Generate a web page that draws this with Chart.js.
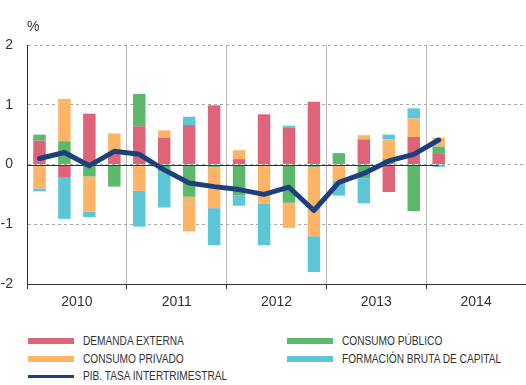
<!DOCTYPE html>
<html><head><meta charset="utf-8">
<script src="https://cdn.jsdelivr.net/npm/chart.js@4/dist/chart.umd.min.js"></script>
<style>
html,body{margin:0;padding:0;background:#fff;}
#wrap{position:relative;width:526px;height:385px;overflow:hidden;background:#fff;}
#c{position:absolute;left:0;top:0;}
.unit{position:absolute;left:27px;top:18px;font:14px "Liberation Sans",Arial,sans-serif;color:#333;}
.leg{position:absolute;font-family:"Liberation Sans",Arial,sans-serif;font-size:13px;color:#333;white-space:nowrap;line-height:14px;transform:scaleX(0.78);transform-origin:0 50%;}
.sw{position:absolute;}
</style></head>
<body>
<div id="wrap">
<canvas id="c" width="526" height="314"></canvas>
<div class="unit">%</div>
<div id="legend"></div>
</div>
<script>
const quarters = ['2010 I','2010 II','2010 III','2010 IV','2011 I','2011 II','2011 III','2011 IV','2012 I','2012 II','2012 III','2012 IV','2013 I','2013 II','2013 III','2013 IV','2014 I','2014 II','2014 III','2014 IV'];
const years = ['2010','2011','2012','2013','2014'];
const yTicks = [-2,-1,0,1,2];
const demandaExterna = [0.40,-0.22,0.85,0.19,0.64,0.45,0.66,0.99,0.09,0.84,0.62,1.05,0.00,0.42,-0.46,0.46,0.19];
const consumoPublico = [0.10,0.39,-0.20,-0.37,0.54,-0.12,-0.54,-0.04,-0.52,0.00,-0.64,-0.04,0.19,-0.23,0.09,-0.78,0.11];
const consumoPrivado = [-0.40,0.71,-0.59,0.33,-0.44,0.12,-0.58,-0.69,0.15,-0.66,-0.42,-1.16,-0.27,0.07,0.33,0.31,0.15];
const formacionBruta = [-0.05,-0.69,-0.09,0.00,-0.60,-0.60,0.14,-0.62,-0.17,-0.69,0.03,-0.60,-0.25,-0.42,0.08,0.17,-0.04];
const pibTasa = [0.10,0.20,-0.02,0.22,0.17,-0.09,-0.31,-0.37,-0.42,-0.50,-0.38,-0.77,-0.30,-0.15,0.06,0.17,0.41];

const C = {red:'#dd6479', green:'#5cb86a', orange:'#fdb466', cyan:'#5dc6d6', navy:'#1c3f7e'};
const FONT = '"Liberation Sans", Arial, sans-serif';

const zeroLine = {
  id:'zeroLine',
  beforeDatasetDraw(chart, args){
    if (args.index !== 4) return;
    const {ctx, chartArea, scales} = chart;
    const py = Math.round(scales.y.getPixelForValue(0)) + 0.5;
    const xEnd = scales.x.getPixelForValue(pibTasa.length - 1);
    ctx.save();
    ctx.strokeStyle = '#333';
    ctx.lineWidth = 1;
    ctx.beginPath();
    ctx.moveTo(chartArea.left, py);
    ctx.lineTo(xEnd, py);
    ctx.stroke();
    ctx.restore();
  }
};

function bar(label, data, color){
  return {type:'bar', label, data, backgroundColor:color, borderWidth:0, xAxisID:'x', yAxisID:'y', stack:'s', order:1, barPercentage:0.5, categoryPercentage:1};
}

new Chart(document.getElementById('c'), {
  type:'bar',
  data:{
    labels: quarters,
    datasets:[
      bar('DEMANDA EXTERNA', demandaExterna, C.red),
      bar('CONSUMO PÚBLICO', consumoPublico, C.green),
      bar('CONSUMO PRIVADO', consumoPrivado, C.orange),
      bar('FORMACIÓN BRUTA DE CAPITAL', formacionBruta, C.cyan),
      {type:'line', label:'PIB. TASA INTERTRIMESTRAL', data:pibTasa, borderColor:C.navy, backgroundColor:C.navy, borderWidth:5, pointRadius:0, tension:0, fill:false, xAxisID:'x', yAxisID:'y', stack:'pib', order:0, borderJoinStyle:'round', borderCapStyle:'round'}
    ]
  },
  options:{
    responsive:false, animation:false, devicePixelRatio:1,
    layout:{padding:{top:45,left:0,right:0,bottom:0}},
    plugins:{legend:{display:false}, tooltip:{enabled:false}},
    scales:{
      x:{type:'category', stacked:true, display:false, offset:true},
      x2:{type:'category', labels:years, position:'bottom', offset:true,
        grid:{offset:true, color:'#b8b8b8', lineWidth:1, drawTicks:true, tickLength:5, tickColor:'#333'},
        border:{display:true, color:'#333', width:1},
        ticks:{font:{size:14, family:FONT}, color:'#333', padding:5, autoSkip:false, maxRotation:0},
        afterFit(s){ s.height = 30; }
      },
      y:{stacked:true, min:-2, max:2,
        afterBuildTicks(s){ s.ticks = yTicks.map(v=>({value:v})); },
        ticks:{font:{size:14, family:FONT}, color:'#333', padding:14},
        grid:{drawTicks:false, lineWidth:1, color:(c)=> (c.tick && c.tick.value === -2) ? 'rgba(0,0,0,0)' : '#aaaaaa'},
        border:{display:true, color:'#333', width:1, dash:[3,3]},
        afterFit(s){ s.width = 27; }
      }
    }
  },
  plugins:[zeroLine]
});

const legendItems = [
  {label:'DEMANDA EXTERNA', color:C.red, kind:'box', col:0, row:0},
  {label:'CONSUMO PRIVADO', color:C.orange, kind:'box', col:0, row:1},
  {label:'PIB. TASA INTERTRIMESTRAL', color:C.navy, kind:'line', col:0, row:2},
  {label:'CONSUMO PÚBLICO', color:C.green, kind:'box', col:1, row:0},
  {label:'FORMACIÓN BRUTA DE CAPITAL', color:C.cyan, kind:'box', col:1, row:1}
];
const colX = [28, 287], rowY = [341, 358.5, 376];
const lg = document.getElementById('legend');
legendItems.forEach(it=>{
  const sw = document.createElement('div');
  sw.className = 'sw';
  const h = it.kind === 'line' ? 3 : 6;
  sw.style.cssText = `left:${colX[it.col]}px;top:${rowY[it.row]-h/2}px;width:46px;height:${h}px;background:${it.color};`;
  lg.appendChild(sw);
  const t = document.createElement('div');
  t.className = 'leg';
  t.textContent = it.label;
  t.style.left = (colX[it.col] + 55) + 'px';
  t.style.top = (rowY[it.row] - 7) + 'px';
  lg.appendChild(t);
});
</script>
</body></html>
